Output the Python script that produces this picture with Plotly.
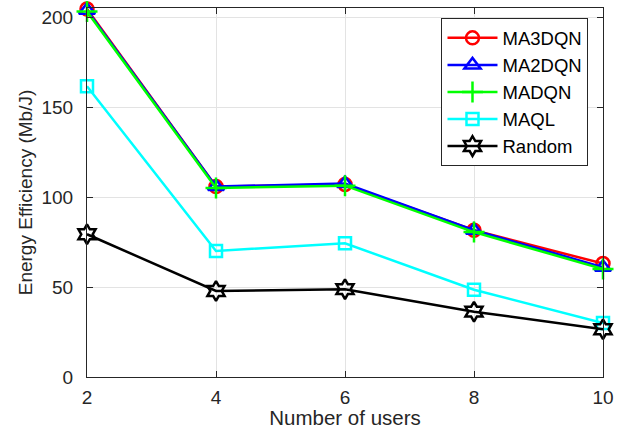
import plotly.graph_objects as go

users = [2, 4, 6, 8, 10]
ma3dqn = [204.5, 105.8, 107.0, 81.5, 63.0]
ma2dqn = [203.8, 105.8, 107.5, 81.5, 61.0]
madqn = [203.0, 105.0, 106.3, 80.5, 60.0]
maql = [161.5, 70.0, 74.3, 48.5, 30.0]
random_ = [79.3, 47.8, 48.8, 36.3, 26.5]

series = [
    ("MA3DQN", ma3dqn, "#ff0000", "circle-open", 13),
    ("MA2DQN", ma2dqn, "#0000ff", "triangle-up-open", 14),
    ("MADQN", madqn, "#00ff00", "cross-thin-open", 15),
    ("MAQL", maql, "#00ffff", "square-open", 12),
    ("Random", random_, "#000000", "hexagram-open", 15),
]

fig = go.Figure()
for name, vals, color, sym, sz in series:
    fig.add_trace(go.Scatter(
        x=users, y=vals, name=name, mode="lines+markers",
        line=dict(color=color, width=2.5),
        marker=dict(symbol=sym, size=sz, color=color,
                    line=dict(color=color, width=2.5)),
        cliponaxis=False,
    ))

font = "Liberation Sans, Arial, sans-serif"
axcol = "#262626"
fig.update_layout(
    width=624, height=429,
    margin=dict(l=87, r=21, t=7, b=51),
    paper_bgcolor="white", plot_bgcolor="white",
    font=dict(family=font, size=19, color=axcol),
    showlegend=True,
    legend=dict(
        x=0.687, y=0.972, xanchor="left", yanchor="top",
        bgcolor="white", bordercolor=axcol, borderwidth=1,
        font=dict(family=font, size=18.5, color="#000000"),
        tracegroupgap=0, itemwidth=50,
    ),
    xaxis=dict(
        range=[2, 10], tickvals=[2, 4, 6, 8, 10],
        showgrid=True, gridcolor="#e3e3e3", gridwidth=1,
        showline=True, linecolor=axcol, linewidth=1, mirror="allticks",
        ticks="inside", ticklen=6, tickcolor=axcol,
        zeroline=False, ticklabelstandoff=3,
        title=dict(text="Number of users", font=dict(size=20.5, color=axcol), standoff=0),
        tickfont=dict(size=19, color=axcol),
    ),
    yaxis=dict(
        range=[0, 205], tickvals=[0, 50, 100, 150, 200],
        showgrid=True, gridcolor="#e3e3e3", gridwidth=1,
        showline=True, linecolor=axcol, linewidth=1, mirror="allticks",
        ticks="inside", ticklen=6, tickcolor=axcol,
        zeroline=False, ticklabelstandoff=9,
        title=dict(text="Energy Efficiency (Mb/J)", font=dict(size=19, color=axcol), standoff=3),
        tickfont=dict(size=19, color=axcol),
    ),
)

fig.write_html("out.html")
